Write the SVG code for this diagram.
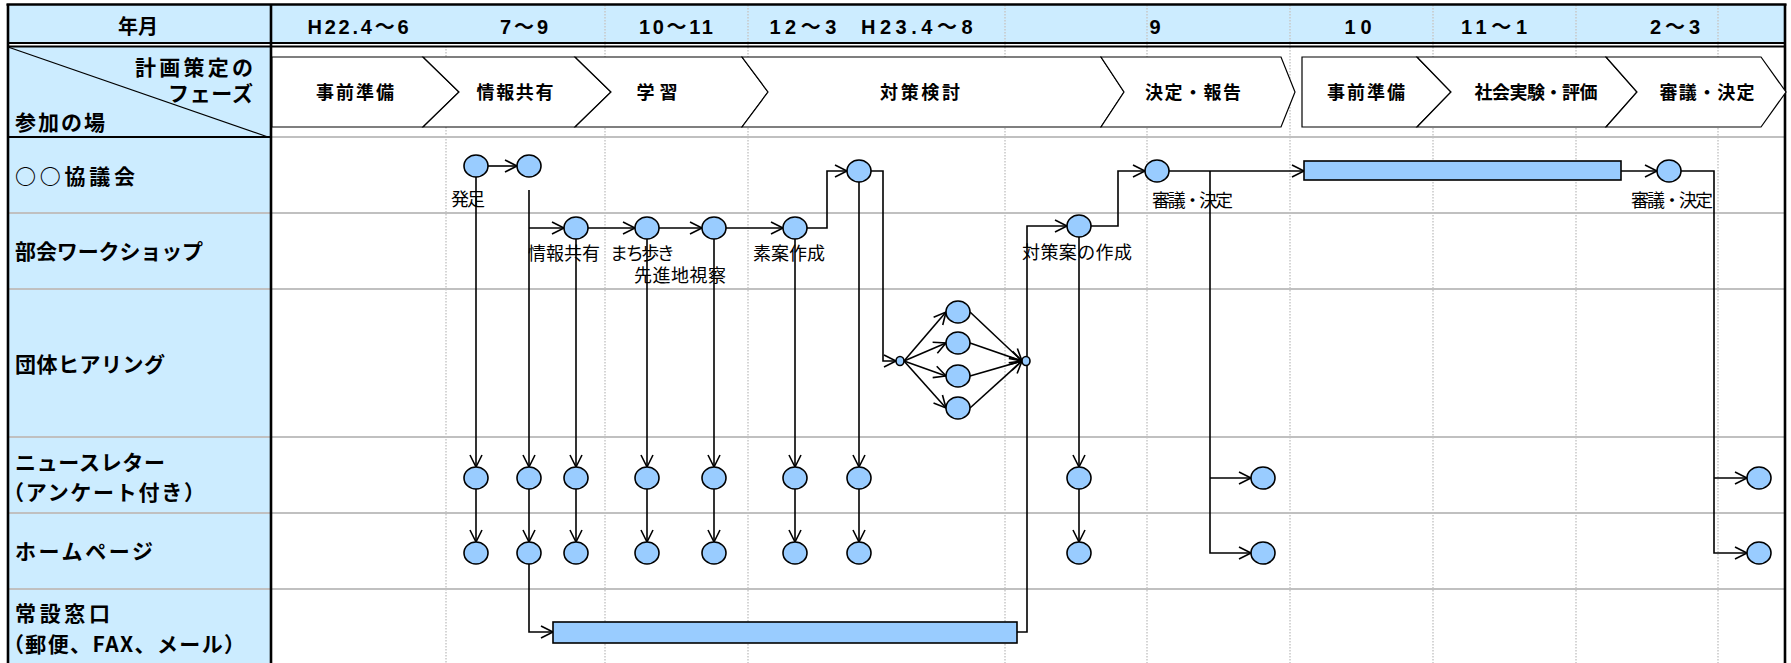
<svg xmlns="http://www.w3.org/2000/svg" width="1791" height="663" viewBox="0 0 1791 663">
<style>
.cell{fill:#CCECFF;stroke:none}
.grid{stroke:#C8C8C8;stroke-width:1.5;stroke-dasharray:1.5 1.5;fill:none}
.rowsep{stroke:#C0C0C0;stroke-width:2;fill:none}
.border{stroke:#000;fill:none}
.hd{font-family:"Liberation Sans","Noto Sans CJK JP",sans-serif;font-weight:bold;font-size:20px;fill:#000}
.ph{font-family:"Noto Sans CJK JP",sans-serif;font-weight:bold;font-size:18px;fill:#000}
.chev{fill:#fff;stroke:#000;stroke-width:1.2}
.lc{font-family:"Noto Sans CJK JP",sans-serif;font-weight:bold;font-size:21px;fill:#000}
.lb{font-family:"Noto Sans CJK JP",sans-serif;font-size:18px;fill:#000}
.nd{fill:#99CCFF;stroke:#000;stroke-width:1.6}
.cn{fill:none;stroke:#000;stroke-width:1.6;marker-end:url(#ah)}
</style>
<defs>
<marker id="ah" markerUnits="userSpaceOnUse" markerWidth="16" markerHeight="16" refX="12" refY="6" orient="auto" overflow="visible">
<path d="M0,0 L12,6 L0,12" fill="none" stroke="#000" stroke-width="1.6"/>
</marker>
</defs>
<rect width="1791" height="663" fill="#fff"/>
<g id="table">
<rect class="cell" x="8" y="5" width="1777" height="38"/>
<rect class="cell" x="8" y="46" width="263" height="617"/>
<g class="grid">
<path d="M446,46 V663"/>
<path d="M605,5 V663"/><path d="M748,5 V663"/><path d="M1005,5 V663"/><path d="M1147,5 V663"/>
<path d="M1290,5 V663"/><path d="M1433,5 V663"/><path d="M1576,5 V663"/><path d="M1718,5 V663"/>
</g>
<g class="rowsep">
<path d="M271,137 H1785"/>
<path d="M8,213 H1785"/><path d="M8,289 H1785"/><path d="M8,437 H1785"/><path d="M8,513 H1785"/><path d="M8,589 H1785"/>
</g>
<path class="border" d="M8,137 H271" stroke-width="2"/>
<path class="border" d="M8,47 L268,137" stroke-width="1.3"/>
<path class="border" d="M7,43 H1786 M7,46.5 H1786" stroke-width="2"/>
<path class="border" d="M6.5,4.5 H1786.5" stroke-width="2.5"/>
<path class="border" d="M8,4 V663 M271,4 V663 M1785,4 V663" stroke-width="2.6"/>
</g>
<g id="header">
<text class="hd" x="138" y="34" text-anchor="middle" font-family="Noto Sans CJK JP, sans-serif">年月</text>
<text class="hd" x="358" y="34" text-anchor="middle" textLength="101" lengthAdjust="spacing">H22.4～6</text>
<text class="hd" x="524" y="34" text-anchor="middle" textLength="48" lengthAdjust="spacing">7～9</text>
<text class="hd" x="676" y="34" text-anchor="middle" textLength="74" lengthAdjust="spacing">10～11</text>
<text class="hd" x="871" y="34" text-anchor="middle" textLength="203" lengthAdjust="spacing" xml:space="preserve">12～3  H23.4～8</text>
<text class="hd" x="1155" y="34" text-anchor="middle">9</text>
<text class="hd" x="1358" y="34" text-anchor="middle" textLength="27" lengthAdjust="spacing">10</text>
<text class="hd" x="1494" y="34" text-anchor="middle" textLength="66" lengthAdjust="spacing">11～1</text>
<text class="hd" x="1675" y="34" text-anchor="middle" textLength="50" lengthAdjust="spacing">2～3</text>
</g>
<g id="corner">
<text class="lc" x="253" y="75" text-anchor="end" textLength="118" lengthAdjust="spacing">計画策定の</text>
<text class="lc" x="253" y="101" text-anchor="end" textLength="85" lengthAdjust="spacing">フェーズ</text>
<text class="lc" x="15" y="130" textLength="90" lengthAdjust="spacing">参加の場</text>
</g>
<g id="phases">
<g id="phase-1"><path class="chev" d="M272,57 H423 L459,92 L423,127 H272 Z"/><text class="ph" x="355" y="99" text-anchor="middle" textLength="78" lengthAdjust="spacing">事前準備</text></g>
<g id="phase-2"><path class="chev" d="M423,57 H575 L611,92 L575,127 H423 L459,92 Z"/><text class="ph" x="515" y="99" text-anchor="middle" textLength="77" lengthAdjust="spacing">情報共有</text></g>
<g id="phase-3"><path class="chev" d="M575,57 H742 L768,92 L742,127 H575 L611,92 Z"/><text class="ph" x="657" y="99" text-anchor="middle" textLength="41" lengthAdjust="spacing">学習</text></g>
<g id="phase-4"><path class="chev" d="M742,57 H1101 L1124,92 L1101,127 H742 L768,92 Z"/><text class="ph" x="920" y="99" text-anchor="middle" textLength="80" lengthAdjust="spacing">対策検討</text></g>
<g id="phase-5"><path class="chev" d="M1101,57 H1281 L1295,92 L1281,127 H1101 L1124,92 Z"/><text class="ph" x="1193" y="99" text-anchor="middle" textLength="96" lengthAdjust="spacing">決定・報告</text></g>
<g id="phase-6"><path class="chev" d="M1302,57 H1417 L1451,92 L1417,127 H1302 Z"/><text class="ph" x="1366" y="99" text-anchor="middle" textLength="78" lengthAdjust="spacing">事前準備</text></g>
<g id="phase-7"><path class="chev" d="M1417,57 H1606 L1637,92 L1606,127 H1417 L1451,92 Z"/><text class="ph" x="1536" y="99" text-anchor="middle" textLength="123" lengthAdjust="spacing">社会実験・評価</text></g>
<g id="phase-8"><path class="chev" d="M1606,57 H1761 L1786,92 L1761,127 H1606 L1637,92 Z"/><text class="ph" x="1707" y="99" text-anchor="middle" textLength="95" lengthAdjust="spacing">審議・決定</text></g>
</g>
<g id="rows">
<text class="lc" x="15" y="184" textLength="120" lengthAdjust="spacing">○○協議会</text>
<text class="lc" x="15" y="259" textLength="188" lengthAdjust="spacing">部会ワークショップ</text>
<text class="lc" x="15" y="372" textLength="150" lengthAdjust="spacing">団体ヒアリング</text>
<text class="lc" x="15" y="470" textLength="150" lengthAdjust="spacing">ニュースレター</text>
<text class="lc" x="3" y="500" textLength="202" lengthAdjust="spacing">（アンケート付き）</text>
<text class="lc" x="15" y="559" textLength="138" lengthAdjust="spacing">ホームページ</text>
<text class="lc" x="15" y="621" textLength="95" lengthAdjust="spacing">常設窓口</text>
<text class="lc" x="3" y="652" textLength="242" lengthAdjust="spacing">（郵便、FAX、メール）</text>
</g>
<g id="connectors">
<path class="cn" d="M488,166 H517"/>
<path class="cn" d="M476,177 V467"/><path class="cn" d="M476,489 V542"/>
<path class="cn" d="M529,190 V467"/><path class="cn" d="M529,228 H564"/><path class="cn" d="M529,489 V542"/>
<path class="cn" d="M529,564 V632 H553"/>
<path class="cn" d="M588,228 H635"/><path class="cn" d="M659,228 H702"/><path class="cn" d="M726,228 H783"/>
<path class="cn" d="M807,228 H827 V171 H847"/>
<path class="cn" d="M576,239 V467"/><path class="cn" d="M576,489 V542"/>
<path class="cn" d="M647,239 V467"/><path class="cn" d="M647,489 V542"/>
<path class="cn" d="M714,239 V467"/><path class="cn" d="M714,489 V542"/>
<path class="cn" d="M795,239 V467"/><path class="cn" d="M795,489 V542"/>
<path class="cn" d="M859,182 V467"/><path class="cn" d="M859,489 V542"/>
<path class="cn" d="M871,171 H883 V361 H896"/>
<path class="cn" d="M904,361 L946,312"/><path class="cn" d="M904,361 L946,343"/><path class="cn" d="M904,361 L946,376"/><path class="cn" d="M904,361 L946,408"/>
<path class="cn" d="M970,312 L1022,361"/><path class="cn" d="M970,343 L1022,361"/><path class="cn" d="M970,376 L1022,361"/><path class="cn" d="M970,408 L1022,361"/>
<path class="cn" d="M1017,632 H1027 V226 H1067"/>
<path class="cn" d="M1091,226 H1118 V171 H1145"/>
<path class="cn" d="M1079,237 V467"/><path class="cn" d="M1079,489 V542"/>
<path class="cn" d="M1169,171 H1304"/>
<path class="cn" d="M1210,171 V553 H1251" stroke-width="2.2"/><path class="cn" d="M1210,478 H1251"/>
<path class="cn" d="M1621,171 H1657"/>
<path class="cn" d="M1681,171 H1714 V553 H1747"/><path class="cn" d="M1714,478 H1747"/>
</g>
<g id="nodes">
<g id="n-hossoku"><ellipse class="nd" cx="476" cy="166" rx="12" ry="11"/><text class="lb" x="451" y="206" textLength="34" lengthAdjust="spacing">発足</text></g>
<g id="n-kyogi-1"><ellipse class="nd" cx="529" cy="166" rx="12" ry="11"/></g>
<g id="n-johokyoyu"><ellipse class="nd" cx="576" cy="228" rx="12" ry="11"/><text class="lb" x="528" y="260" textLength="72" lengthAdjust="spacing">情報共有</text></g>
<g id="n-machiaruki"><ellipse class="nd" cx="647" cy="228" rx="12" ry="11"/><text class="lb" x="610" y="260" textLength="65" lengthAdjust="spacing">まち歩き</text></g>
<g id="n-senshinchi"><ellipse class="nd" cx="714" cy="228" rx="12" ry="11"/><text class="lb" x="634" y="282" textLength="92" lengthAdjust="spacing">先進地視察</text></g>
<g id="n-soan"><ellipse class="nd" cx="795" cy="228" rx="12" ry="11"/><text class="lb" x="753" y="260" textLength="72" lengthAdjust="spacing">素案作成</text></g>
<g id="n-kyogi-2"><ellipse class="nd" cx="859" cy="171" rx="12" ry="11"/></g>
<g id="n-hear-in"><ellipse class="nd" cx="900" cy="361" rx="4" ry="4.5"/></g>
<g id="n-hear-1"><ellipse class="nd" cx="958" cy="312" rx="12" ry="11"/></g>
<g id="n-hear-2"><ellipse class="nd" cx="958" cy="343" rx="12" ry="11"/></g>
<g id="n-hear-3"><ellipse class="nd" cx="958" cy="376" rx="12" ry="11"/></g>
<g id="n-hear-4"><ellipse class="nd" cx="958" cy="408" rx="12" ry="11"/></g>
<g id="n-hear-out"><ellipse class="nd" cx="1026" cy="361" rx="4" ry="4.5"/></g>
<g id="n-taisakuan"><ellipse class="nd" cx="1079" cy="226" rx="12" ry="11"/><text class="lb" x="1022" y="259" textLength="110" lengthAdjust="spacing">対策案の作成</text></g>
<g id="n-shingi-1"><ellipse class="nd" cx="1157" cy="171" rx="12" ry="11"/><text class="lb" x="1152" y="207" textLength="81" lengthAdjust="spacing">審議・決定</text></g>
<g id="n-jikken"><rect class="nd" x="1304" y="161" width="317" height="19"/></g>
<g id="n-shingi-2"><ellipse class="nd" cx="1669" cy="171" rx="12" ry="11"/><text class="lb" x="1631" y="207" textLength="82" lengthAdjust="spacing">審議・決定</text></g>
<g id="n-madoguchi"><rect class="nd" x="553" y="622" width="464" height="21"/></g>
<g id="n-newsletter">
<ellipse class="nd" cx="476" cy="478" rx="12" ry="11"/><ellipse class="nd" cx="529" cy="478" rx="12" ry="11"/><ellipse class="nd" cx="576" cy="478" rx="12" ry="11"/><ellipse class="nd" cx="647" cy="478" rx="12" ry="11"/><ellipse class="nd" cx="714" cy="478" rx="12" ry="11"/><ellipse class="nd" cx="795" cy="478" rx="12" ry="11"/><ellipse class="nd" cx="859" cy="478" rx="12" ry="11"/><ellipse class="nd" cx="1079" cy="478" rx="12" ry="11"/><ellipse class="nd" cx="1263" cy="478" rx="12" ry="11"/><ellipse class="nd" cx="1759" cy="478" rx="12" ry="11"/>
</g>
<g id="n-homepage">
<ellipse class="nd" cx="476" cy="553" rx="12" ry="11"/><ellipse class="nd" cx="529" cy="553" rx="12" ry="11"/><ellipse class="nd" cx="576" cy="553" rx="12" ry="11"/><ellipse class="nd" cx="647" cy="553" rx="12" ry="11"/><ellipse class="nd" cx="714" cy="553" rx="12" ry="11"/><ellipse class="nd" cx="795" cy="553" rx="12" ry="11"/><ellipse class="nd" cx="859" cy="553" rx="12" ry="11"/><ellipse class="nd" cx="1079" cy="553" rx="12" ry="11"/><ellipse class="nd" cx="1263" cy="553" rx="12" ry="11"/><ellipse class="nd" cx="1759" cy="553" rx="12" ry="11"/>
</g>
</g>
</svg>
